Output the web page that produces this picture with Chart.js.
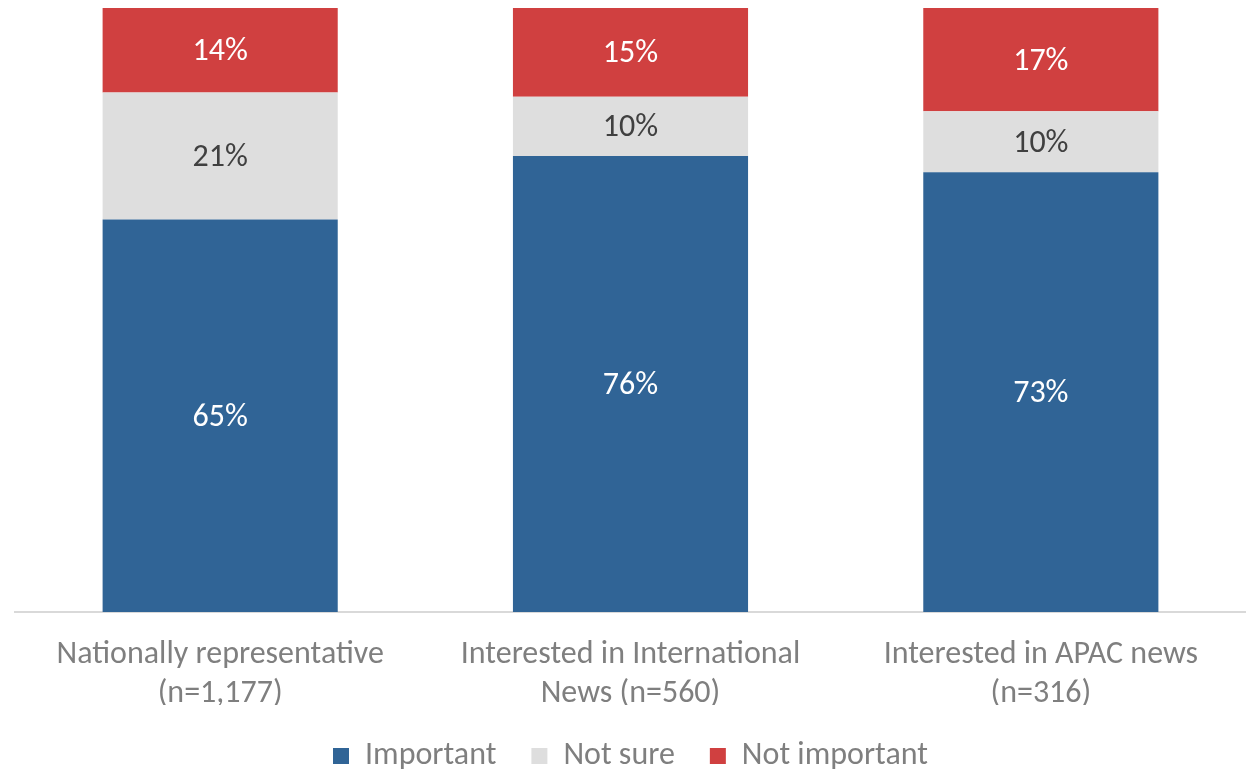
<!DOCTYPE html>
<html>
<head>
<meta charset="utf-8">
<script src="https://cdn.jsdelivr.net/npm/chart.js@4/dist/chart.umd.min.js"></script>
<style>
html,body{margin:0;padding:0;background:#fff;}
#wrap{width:1246px;height:772px;position:relative;}
</style>
</head>
<body>
<div id="wrap"><canvas id="c" width="1246" height="772"></canvas></div>
<script>
const categories = [["Nationally representative","(n=1,177)"],["Interested in International","News (n=560)"],["Interested in APAC news","(n=316)"]];
const important = [65, 75.5, 72.8];
const notSure = [21, 9.8, 10.1];
const notImportant = [14, 14.7, 17.1];
const seriesNames = ["Important","Not sure","Not important"];

const FONT = "Carlito, Lato, 'Open Sans', sans-serif";

const labelPlugin = {
  id: 'segLabels',
  afterDatasetsDraw(chart) {
    const ctx = chart.ctx;
    ctx.save();
    ctx.font = "32px " + FONT;
    ctx.textAlign = 'center';
    ctx.textBaseline = 'middle';
    chart.data.datasets.forEach((ds, di) => {
      const meta = chart.getDatasetMeta(di);
      meta.data.forEach((bar, i) => {
        const v = ds.data[i];
        const yc = (bar.y + bar.base) / 2;
        ctx.fillStyle = ds.labelColor;
        ctx.fillText(Math.round(v) + '%', bar.x, yc + 2);
      });
    });
    ctx.restore();
  }
};

new Chart(document.getElementById('c'), {
  type: 'bar',
  data: {
    labels: categories,
    datasets: [
      {label: seriesNames[0], data: important, backgroundColor: '#306496', labelColor: '#ffffff'},
      {label: seriesNames[1], data: notSure, backgroundColor: '#dedede', labelColor: '#404040'},
      {label: seriesNames[2], data: notImportant, backgroundColor: '#d04040', labelColor: '#ffffff'}
    ]
  },
  options: {
    responsive: false,
    animation: false,
    layout: {padding: {top: 8, left: 15, right: 0, bottom: -10}},
    datasets: {bar: {categoryPercentage: 1, barPercentage: 0.573, borderWidth: 0}},
    scales: {
      x: {
        stacked: true,
        grid: {display: false},
        border: {color: '#d9d9d9', width: 2},
        ticks: {color: '#7f7f7f', font: {size: 32, family: FONT, lineHeight: 1.2}, padding: 16, maxRotation: 0},
        afterFit(scale) { scale.height = 93; }
      },
      y: {stacked: true, display: false, min: 0, max: 100}
    },
    plugins: {
      legend: {
        position: 'bottom',
        labels: {color: '#7f7f7f', font: {size: 32, family: FONT}, boxWidth: 16, boxHeight: 16, padding: 35}
      },
      tooltip: {enabled: false}
    }
  },
  plugins: [labelPlugin]
});
</script>
</body>
</html>
